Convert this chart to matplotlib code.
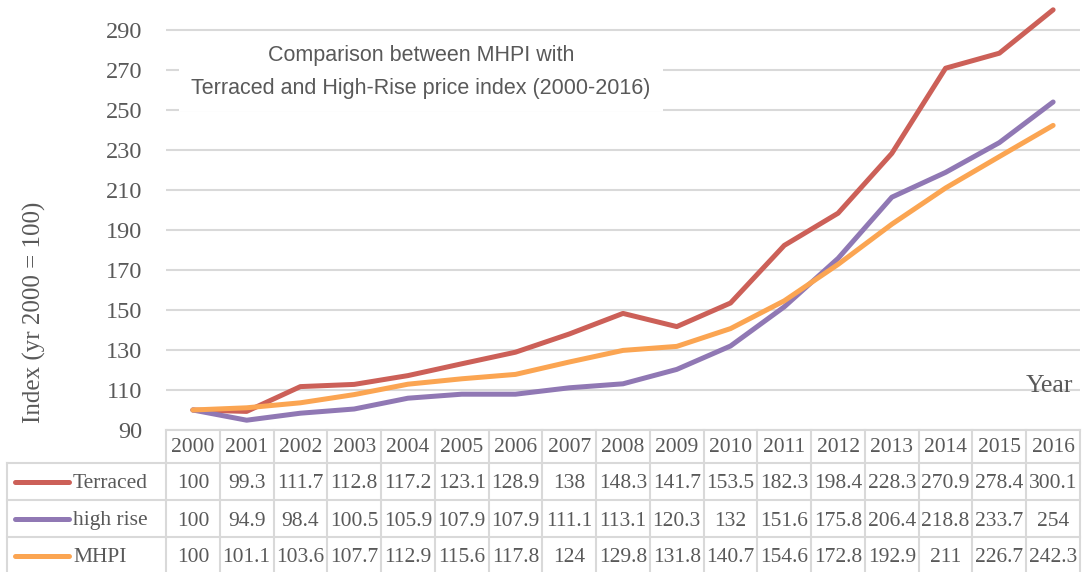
import matplotlib
matplotlib.use("Agg")
import matplotlib.pyplot as plt
from matplotlib.lines import Line2D
from matplotlib import transforms

years = [str(y) for y in range(2000, 2017)]
terraced = [100, 99.3, 111.7, 112.8, 117.2, 123.1, 128.9, 138, 148.3, 141.7,
            153.5, 182.3, 198.4, 228.3, 270.9, 278.4, 300.1]
high_rise = [100, 94.9, 98.4, 100.5, 105.9, 107.9, 107.9, 111.1, 113.1, 120.3,
             132, 151.6, 175.8, 206.4, 218.8, 233.7, 254]
mhpi = [100, 101.1, 103.6, 107.7, 112.9, 115.6, 117.8, 124, 129.8, 131.8,
        140.7, 154.6, 172.8, 192.9, 211, 226.7, 242.3]

series_names = ["Terraced", "high rise", "MHPI"]
series_values = [terraced, high_rise, mhpi]
series_colors = ["#CC6058", "#9078B4", "#FBA552"]
y_ticks = list(range(90, 300, 20))

W, H = 1082, 572
TEXT = "#595959"
GRID = "#D9D9D9"
SERIF = "Liberation Serif"

fig = plt.figure(figsize=(W / 100, H / 100), dpi=100)
ax = fig.add_axes([166 / W, (H - 430) / H, (1080 - 166) / W, (430 - 10) / H])

x = list(range(len(years)))
for name, vals, col in zip(series_names, series_values, series_colors):
    ax.plot(x, vals, color=col, linewidth=3.6, solid_capstyle="round",
            solid_joinstyle="round", zorder=3, clip_on=False)

ax.set_xlim(-0.5, len(years) - 0.5)
ax.set_ylim(90, 300)
ax.set_yticks(y_ticks)
ax.set_yticklabels([str(t) for t in y_ticks], fontsize=17.5, family=SERIF, color=TEXT)
ax.set_xticks([])
ax.tick_params(axis="y", length=0, pad=17)
ax.grid(axis="y", color=GRID, linewidth=1.5, zorder=0)
for s in ax.spines.values():
    s.set_visible(False)

# title box
fig.text(421 / W, 1 - 72 / H,
         "Comparison between MHPI with\nTerraced and High-Rise price index (2000-2016)",
         ha="center", va="center", fontsize=15.5, family="Liberation Sans", color=TEXT,
         linespacing=1.75,
         bbox=dict(facecolor="white", edgecolor="none", pad=9))

fig.text(34 / W, 1 - 312 / H, "Index (yr 2000 = 100)", rotation=90,
         ha="center", va="center", fontsize=18, family=SERIF, color=TEXT)
fig.text(1073 / W, 1 - 386 / H, "Year", ha="right", va="center",
         fontsize=18.5, family=SERIF, color=TEXT)

# data table below the axis
tr = transforms.blended_transform_factory(ax.transData, fig.transFigure)
row_edges = [430, 463, 500, 537, 574]
row_centers = [448, 484, 521, 558]


def fy(p):
    return 1 - p / H


n = len(years)
for i in range(n + 1):
    fig.add_artist(Line2D([i - 0.5, i - 0.5], [fy(430), fy(574)], transform=tr,
                          color=GRID, linewidth=1.5))
fig.add_artist(Line2D([-0.5, n - 0.5], [fy(430), fy(430)], transform=tr,
                      color=GRID, linewidth=1.5))
fig.add_artist(Line2D([7 / W, 7 / W], [fy(463), fy(574)], transform=fig.transFigure,
                      color=GRID, linewidth=1.5))
for p in row_edges[1:4]:
    fig.add_artist(Line2D([7 / W, 166 / W], [fy(p), fy(p)], transform=fig.transFigure,
                          color=GRID, linewidth=1.5))
    fig.add_artist(Line2D([-0.5, n - 0.5], [fy(p), fy(p)], transform=tr,
                          color=GRID, linewidth=1.5))

for i, yr in enumerate(years):
    fig.text(i, fy(row_centers[0]), yr, transform=tr, ha="center", va="center",
             fontsize=15.5, family=SERIF, color=TEXT)

for r, (name, vals, col) in enumerate(zip(series_names, series_values, series_colors)):
    yc = fy(row_centers[r + 1])
    fig.add_artist(Line2D([15 / W, 69 / W], [fy(row_centers[r + 1] - 2)] * 2,
                          transform=fig.transFigure,
                          color=col, linewidth=3.6, solid_capstyle="round"))
    fig.text(73 / W, yc, name, ha="left", va="center", fontsize=15.5,
             family=SERIF, color=TEXT)
    for i, v in enumerate(vals):
        fig.text(i, yc, f"{v:g}", transform=tr, ha="center", va="center",
                 fontsize=15.5, family=SERIF, color=TEXT)

fig.savefig("out.png", dpi=100)
